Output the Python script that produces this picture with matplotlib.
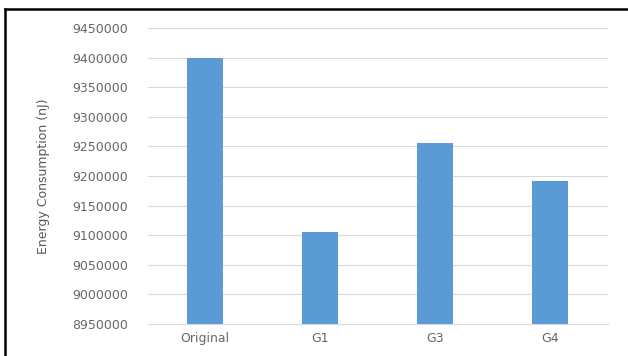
import matplotlib
matplotlib.use("Agg")
import matplotlib.pyplot as plt
from matplotlib.lines import Line2D

categories = ["Original", "G1", "G3", "G4"]
values = [9400000, 9105000, 9256000, 9191000]
yticks = [8950000, 9000000, 9050000, 9100000, 9150000, 9200000,
          9250000, 9300000, 9350000, 9400000, 9450000]

W, H = 628, 356
plt.rcParams['font.family'] = ['DejaVu Sans']
fig = plt.figure(figsize=(W / 100, H / 100), dpi=100)

left, right, bottom, top = 147.5, 607.5, 324, 28
ax = fig.add_axes([left / W, 1 - bottom / H, (right - left) / W, (bottom - top) / H])

x = range(len(categories))
ax.bar(x, values, width=0.31, color="#5B9BD5", zorder=3)
ax.set_ylim(8950000, 9450000)
ax.set_xlim(-0.5, len(categories) - 0.5)
ax.set_yticks(yticks)
ax.set_yticklabels([str(v) for v in yticks])
ax.set_xticks(list(x))
ax.set_xticklabels(categories)
ax.grid(axis="y", color="#D9D9D9", linewidth=0.8, zorder=0)
for s in ["top", "right", "left"]:
    ax.spines[s].set_visible(False)
ax.spines["bottom"].set_color("#D9D9D9")
ax.spines["bottom"].set_linewidth(0.8)
ax.tick_params(axis="both", length=0, colors="#666666", labelsize=9)
ax.tick_params(axis="y", pad=14)
ax.tick_params(axis="x", pad=6)
ax.set_ylabel("Energy Consumption (nJ)", color="#595959", fontsize=9)
ax.yaxis.set_label_coords((50 - left) / (right - left), 0.5)

# black frame lines on top and left edges
fig.add_artist(Line2D([5 / W, 1], [1 - 9 / H, 1 - 9 / H], color="black", linewidth=1.8,
                      transform=fig.transFigure))
fig.add_artist(Line2D([5 / W, 5 / W], [0, 1 - 9 / H], color="black", linewidth=1.8,
                      transform=fig.transFigure))

fig.savefig("out.png", dpi=100, facecolor="white")
